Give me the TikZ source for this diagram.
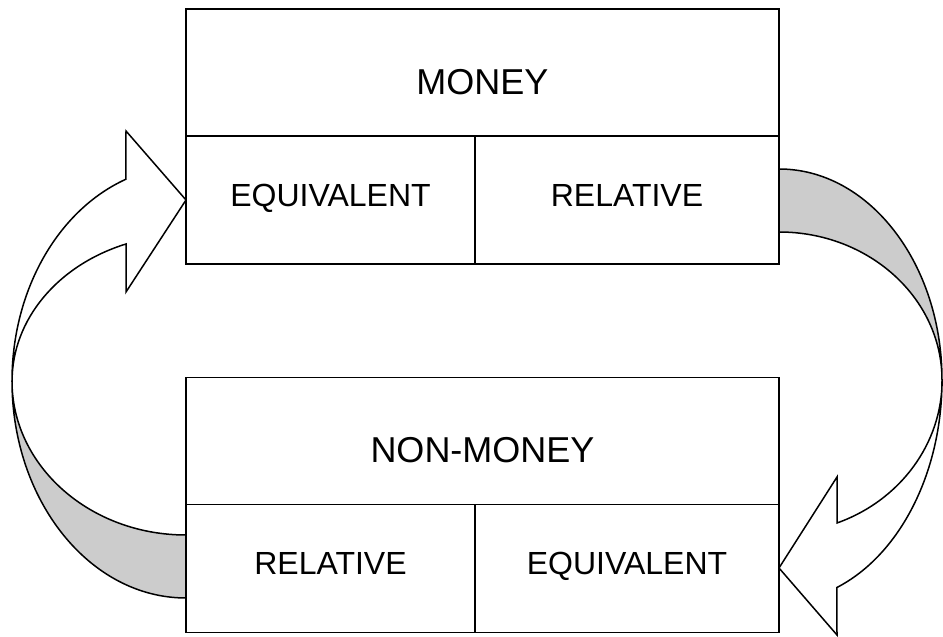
\documentclass[tikz,border=0pt]{standalone}
\usepackage{fontspec}
\setmainfont{Liberation Sans}
\usetikzlibrary{positioning,calc}
\tikzset{
  cell/.style={draw,line width=1.5pt,inner sep=0pt,outer sep=0pt,align=center},
  headcell/.style={cell,minimum width=593pt,minimum height=127pt,text height=44pt,text depth=0pt,font=\fontsize{36}{40}\selectfont},
  subcell/.style={cell,minimum height=128pt,text height=23pt,text depth=10pt,font=\fontsize{32}{36}\selectfont},
  back/.style={draw,line width=1.5pt,fill=black!20,line join=round},
  front/.style={draw,line width=1.5pt,fill=white},
}

\begin{document}
\begin{tikzpicture}[x=1pt,y=1pt]
\useasboundingbox (0,0) rectangle (943,637);
% hidden side of the two bent arrows
\draw[back] (186,39) arc[start angle=270,end angle=180,x radius=174,y radius=217]
  arc[start angle=180,end angle=270,x radius=174,y radius=154] -- cycle;
\draw[back] (779,468) arc[start angle=90,end angle=0,x radius=163,y radius=211]
  arc[start angle=0,end angle=90,x radius=163,y radius=148] -- cycle;

% the two tables
\node[headcell] (money) at (482.5,564.5) {MONEY};
\node[subcell,minimum width=289pt,anchor=north west] (mequiv) at (money.south west) {EQUIVALENT};
\node[subcell,minimum width=304pt,anchor=north east] (mrel) at (money.south east) {RELATIVE};

\node[headcell] (nonmoney) at (482.5,196) {NON-MONEY};
\node[subcell,minimum width=289pt,anchor=north west] (nrel) at (nonmoney.south west) {RELATIVE};
\node[subcell,minimum width=304pt,anchor=north east] (nequiv) at (nonmoney.south east) {EQUIVALENT};

% front side with the heads
\draw[front] (12,256) arc[start angle=180,end angle=110.2,x radius=174,y radius=215]
  -- (126,506) -- (mequiv.west |- 0,437) -- (126,345) -- (126,393)
  arc[start angle=110.2,end angle=180,x radius=174,y radius=146] -- cycle;
\draw[front] (942,257) arc[start angle=0,end angle=-69.2,x radius=163,y radius=222]
  -- (837,2) -- (nequiv.east |- 0,69) -- (837,160) -- (837,114)
  arc[start angle=-69.2,end angle=0,x radius=163,y radius=153] -- cycle;
\end{tikzpicture}
\end{document}
